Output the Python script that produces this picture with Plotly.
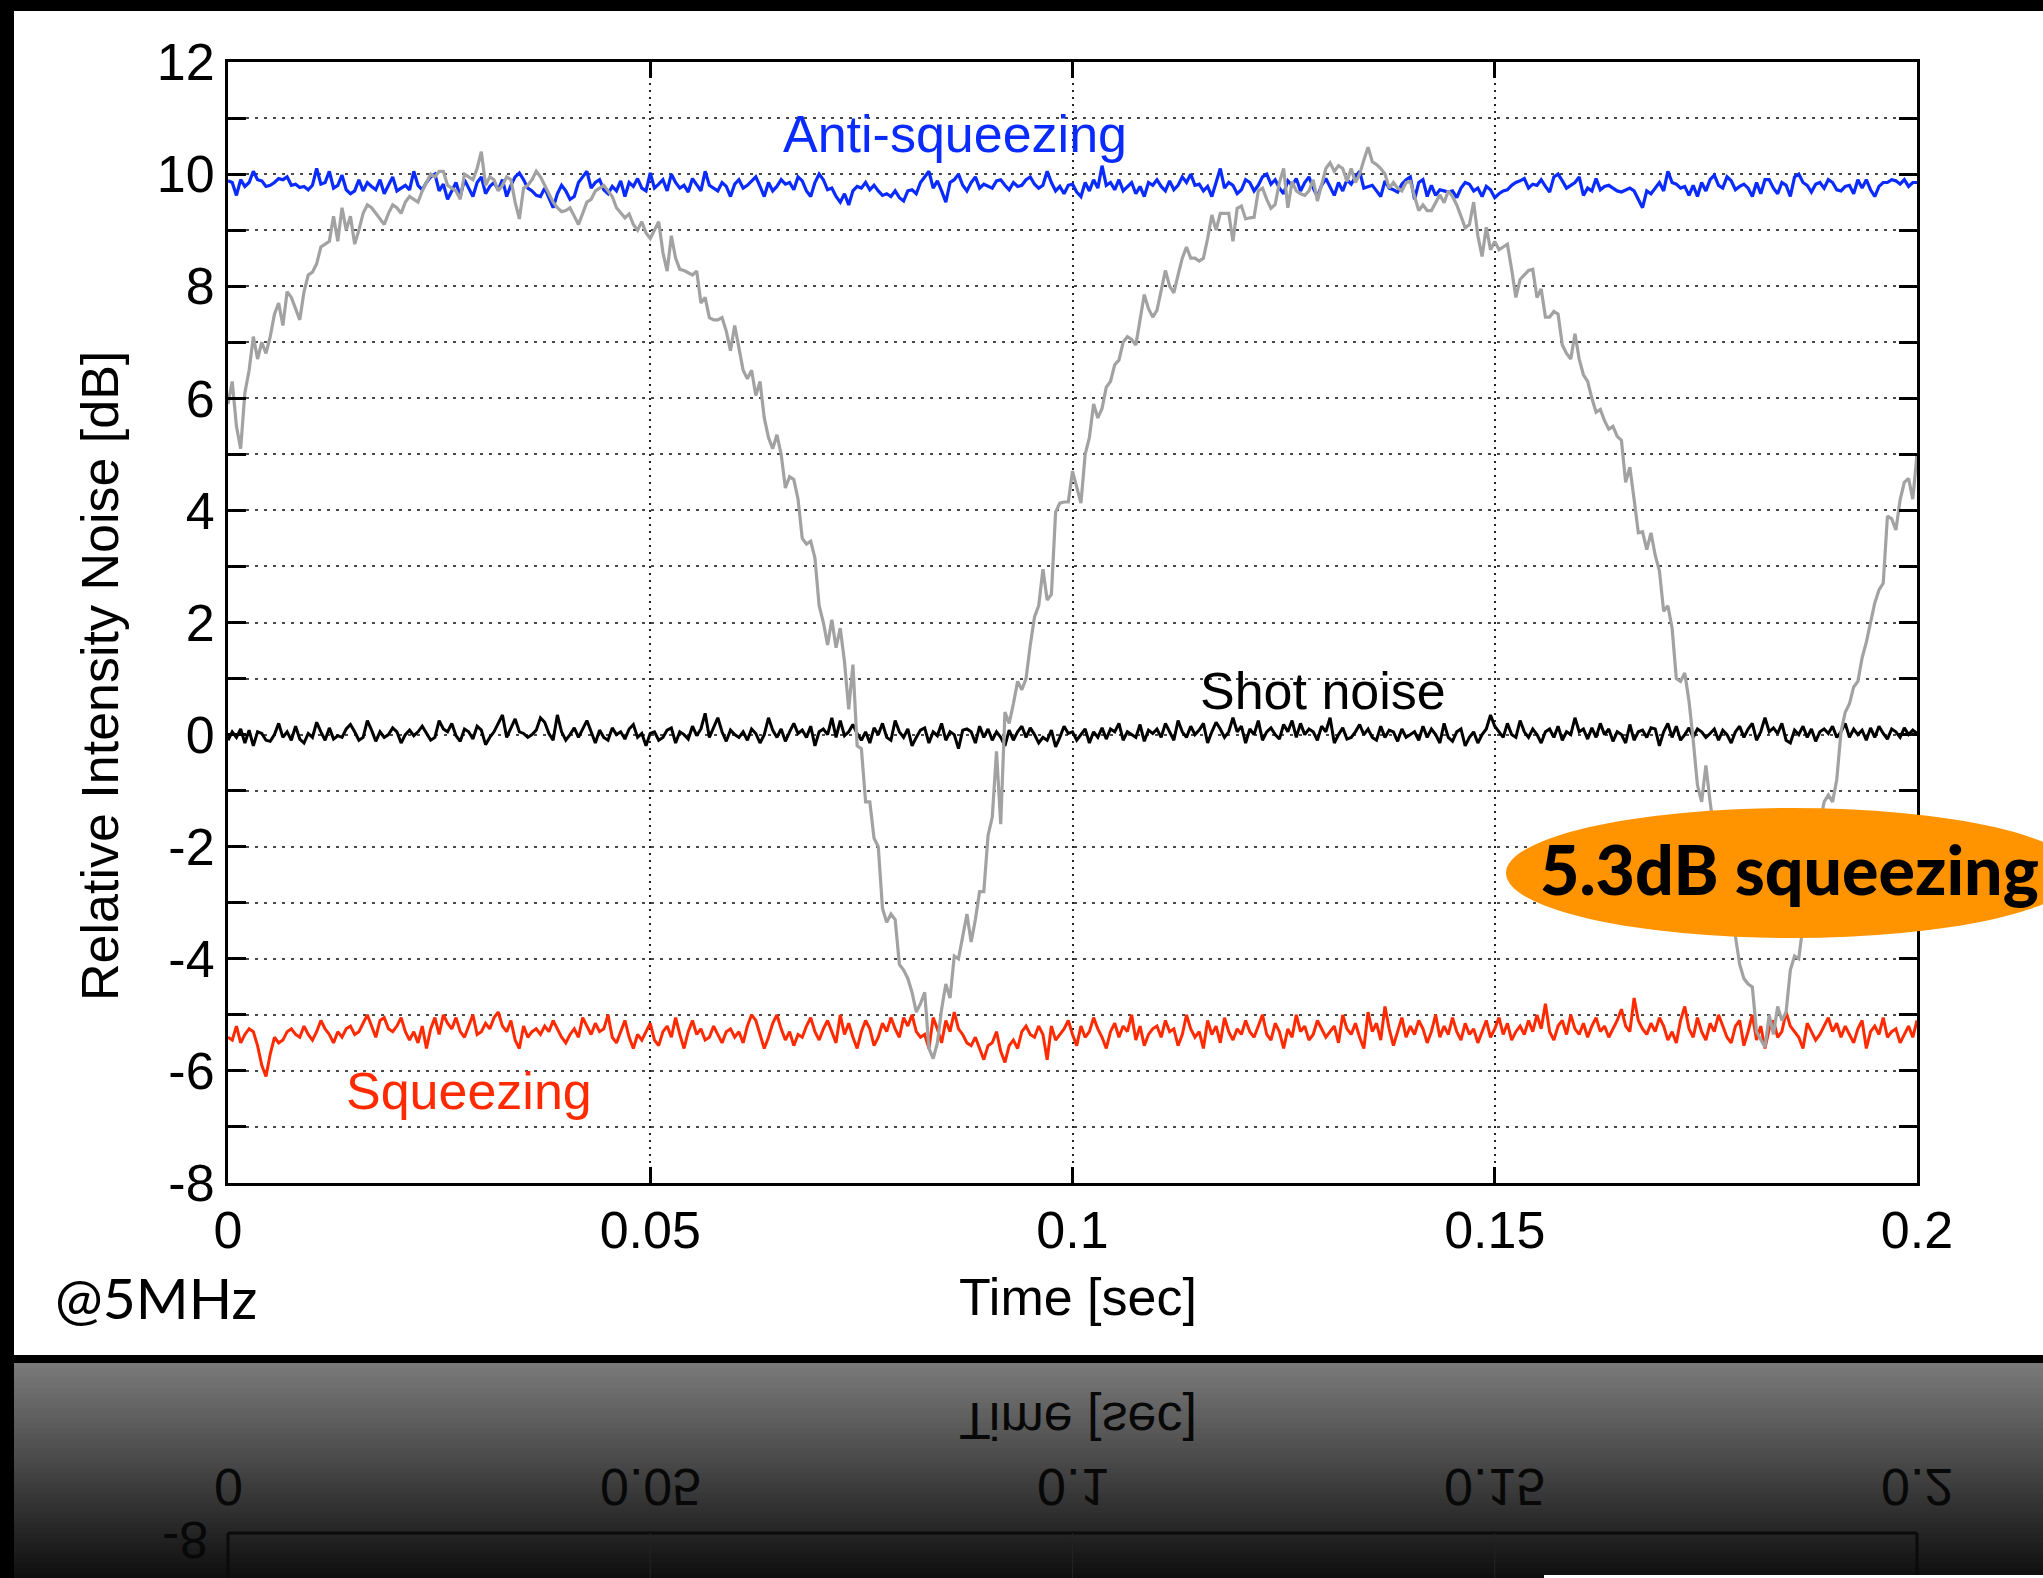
import json
import plotly.graph_objects as go

# ---------------- data ----------------
time_step = 0.0005
n_pts = 401
time_s = [i * time_step for i in range(n_pts)]

phase_scan = [
    5.9, 6.3, 5.5, 5.1, 6.1, 6.5, 7.1, 6.7, 7.0, 6.8, 7.1, 7.5, 7.7, 7.3, 7.9, 7.8, 7.6, 7.4, 7.9, 8.2,
    8.25, 8.4, 8.7, 8.75, 8.8, 9.25, 8.8, 9.4, 9.0, 9.25, 8.75, 9.0, 9.3, 9.45, 9.4, 9.3, 9.2, 9.1, 9.3, 9.45,
    9.4, 9.3, 9.5, 9.6, 9.55, 9.5, 9.7, 9.85, 10.0, 9.95, 10.05, 10.05, 9.8, 9.75, 9.7, 9.55, 10.0, 9.95, 9.9, 10.1,
    10.4, 9.8, 9.95, 9.9, 9.7, 9.8, 9.95, 9.9, 9.5, 9.2, 9.75, 9.8, 9.9, 10.05, 9.95, 9.8, 9.65, 9.5, 9.4, 9.33,
    9.35, 9.4, 9.25, 9.1, 9.3, 9.5, 9.55, 9.7, 9.75, 9.8, 9.7, 9.6, 9.4, 9.3, 9.22, 9.29, 9.1, 9.0, 9.15, 8.95,
    8.85, 9.0, 9.15, 8.6, 8.27, 8.9, 8.5, 8.3, 8.28, 8.24, 8.2, 8.27, 7.7, 7.8, 7.44, 7.4, 7.4, 7.44, 7.2, 6.85,
    7.3, 6.9, 6.5, 6.35, 6.5, 6.05, 6.3, 5.65, 5.3, 5.1, 5.35, 5.0, 4.4, 4.6, 4.55, 4.2, 3.5, 3.4, 3.45, 3.15,
    2.3, 2.0, 1.6, 2.05, 1.55, 1.9, 1.3, 0.45, 1.25, -0.2, -0.25, -1.2, -1.2, -1.85, -2.0, -3.1, -3.35, -3.2, -3.3, -4.1,
    -4.2, -4.35, -4.6, -4.95, -4.8, -4.6, -5.6, -5.78, -5.5, -4.9, -4.45, -4.7, -3.95, -4.0, -3.6, -3.2, -3.7, -3.3, -2.8, -2.8,
    -1.8, -1.47, -0.3, -1.6, 0.4, 0.2, 0.55, 0.95, 0.8, 1.0, 1.6, 2.1, 2.3, 2.95, 2.4, 2.5, 3.97, 4.13, 4.15, 4.15,
    4.7, 4.4, 4.13, 5.0, 5.3, 5.9, 5.65, 5.82, 6.2, 6.3, 6.6, 6.68, 7.0, 7.1, 7.05, 6.95, 7.38, 7.85, 7.6, 7.45,
    7.57, 7.95, 8.28, 8.0, 7.88, 8.2, 8.5, 8.7, 8.5, 8.5, 8.45, 8.5, 8.85, 9.27, 9.0, 9.3, 9.3, 9.3, 8.8, 9.39,
    9.43, 9.2, 9.22, 9.23, 9.7, 9.75, 9.55, 9.39, 9.46, 9.85, 10.1, 9.4, 9.87, 9.7, 9.65, 9.62, 9.7, 9.9, 9.52, 9.8,
    10.1, 10.2, 10.05, 10.15, 10.1, 9.87, 10.1, 9.85, 10.0, 10.25, 10.48, 10.22, 10.17, 10.1, 10.0, 9.75, 9.85, 9.75, 9.7, 9.85,
    9.87, 9.6, 9.35, 9.45, 9.35, 9.35, 9.5, 9.63, 9.49, 9.7, 9.6, 9.45, 9.25, 9.04, 9.1, 9.5, 8.9, 8.53, 9.05, 8.65,
    8.8, 8.65, 8.7, 8.75, 8.3, 7.8, 8.12, 8.2, 8.28, 8.3, 7.8, 7.95, 7.45, 7.45, 7.55, 7.5, 6.95, 6.8, 6.7, 7.15,
    6.7, 6.42, 6.3, 6.0, 5.75, 5.8, 5.6, 5.45, 5.5, 5.32, 5.25, 4.5, 4.77, 4.2, 3.6, 3.62, 3.3, 3.6, 3.2, 2.92,
    2.2, 2.3, 1.9, 1.0, 0.95, 1.1, 0.6, -0.1, -0.9, -1.2, -0.55, -1.2, -1.8, -2.3, -2.6, -2.9, -3.3, -3.6, -4.1, -4.35,
    -4.45, -4.5, -5.3, -5.45, -5.58, -5.0, -5.35, -4.85, -5.1, -4.95, -4.2, -3.95, -4.0, -3.4, -3.0, -2.6, -2.1, -1.6, -1.2, -1.08,
    -1.2, -0.8, 0.05, 0.4, 0.55, 0.85, 0.95, 1.37, 1.65, 2.0, 2.35, 2.58, 2.7, 3.9, 3.85, 3.65, 4.19, 4.5, 4.57, 4.2,
    5.0,
]

anti_squeezing = [
    9.88, 9.85, 9.62, 9.9, 9.78, 9.85, 10.05, 9.9, 9.88, 9.78, 9.8, 9.85, 9.92, 9.9, 9.95, 9.8, 9.82, 9.76, 9.78, 9.72,
    9.8, 10.1, 9.82, 9.85, 10.05, 9.75, 9.8, 9.98, 9.72, 9.65, 9.7, 9.9, 9.7, 9.85, 9.78, 9.72, 9.9, 9.65, 9.8, 9.95,
    9.7, 9.75, 9.8, 9.72, 10.05, 9.8, 9.72, 9.85, 9.95, 10.0, 9.7, 9.82, 9.55, 9.7, 9.85, 9.6, 9.9, 9.75, 9.6, 9.85,
    9.95, 9.65, 9.78, 9.85, 9.72, 9.9, 9.6, 9.8, 9.95, 10.02, 9.9, 9.75, 9.7, 9.62, 9.6, 9.75, 9.58, 9.4, 9.65, 9.8,
    9.7, 9.55, 9.6, 9.85, 9.95, 10.05, 9.75, 9.85, 9.9, 9.72, 9.65, 9.78, 9.7, 9.88, 9.6, 9.85, 9.78, 9.92, 9.75, 9.7,
    10.02, 9.75, 9.82, 9.9, 9.7, 10.0, 9.85, 9.75, 9.8, 9.68, 9.92, 9.8, 9.7, 10.05, 9.8, 9.75, 9.7, 9.85, 9.78, 9.6,
    9.82, 9.9, 9.75, 9.8, 9.88, 9.95, 9.78, 9.6, 9.85, 9.7, 9.78, 9.9, 9.82, 9.85, 9.72, 9.95, 9.88, 9.7, 9.6, 9.85,
    10.0, 9.9, 9.72, 9.75, 9.6, 9.5, 9.65, 9.45, 9.7, 9.78, 9.75, 9.85, 9.72, 9.8, 9.7, 9.62, 9.65, 9.6, 9.7, 9.58,
    9.52, 9.7, 9.72, 9.65, 9.85, 9.95, 10.05, 9.75, 9.88, 9.7, 9.5, 9.85, 9.9, 10.0, 9.8, 9.7, 9.85, 9.95, 9.75, 9.82,
    9.78, 9.75, 9.88, 9.9, 9.8, 9.72, 9.85, 9.78, 9.8, 9.9, 9.95, 9.82, 9.75, 9.8, 10.05, 9.85, 9.7, 9.78, 9.65, 9.8,
    9.82, 9.68, 9.6, 9.85, 9.7, 9.9, 9.75, 10.15, 9.8, 9.85, 9.72, 9.9, 9.7, 9.78, 9.85, 9.65, 9.78, 9.6, 9.85, 9.8,
    9.9, 9.78, 9.7, 9.88, 9.72, 9.8, 9.95, 9.85, 10.0, 9.8, 9.82, 9.7, 9.78, 9.6, 9.85, 10.1, 9.75, 9.85, 9.8, 9.65,
    9.72, 9.9, 9.85, 9.7, 9.8, 9.95, 10.0, 9.82, 9.9, 9.75, 9.65, 9.88, 9.8, 9.92, 9.7, 9.85, 9.95, 9.75, 9.6, 9.8,
    9.92, 9.78, 9.62, 9.85, 9.7, 9.9, 9.82, 9.95, 10.05, 9.75, 9.78, 9.8, 9.7, 9.6, 9.88, 9.75, 9.72, 9.68, 9.82, 9.9,
    9.95, 9.55, 9.85, 9.9, 9.6, 9.8, 9.62, 9.72, 9.7, 9.68, 9.7, 9.58, 9.75, 9.85, 9.82, 9.7, 9.75, 9.6, 9.78, 9.72,
    9.58, 9.65, 9.7, 9.72, 9.8, 9.85, 9.88, 9.92, 9.75, 9.82, 9.8, 9.9, 9.78, 9.68, 9.95, 10.0, 9.88, 9.75, 9.8, 9.85,
    9.95, 9.62, 9.75, 9.7, 9.92, 9.72, 9.78, 9.8, 9.75, 9.7, 9.68, 9.72, 9.75, 9.7, 9.55, 9.4, 9.7, 9.65, 9.75, 9.85,
    9.7, 10.05, 9.85, 9.82, 9.75, 9.78, 9.62, 9.8, 9.6, 9.85, 9.7, 9.9, 9.98, 9.8, 9.75, 9.95, 9.88, 9.72, 9.78, 9.82,
    9.75, 9.6, 9.85, 9.65, 9.9, 9.9, 9.75, 9.65, 9.85, 9.8, 9.6, 9.95, 10.0, 9.85, 9.8, 9.68, 9.82, 9.85, 9.75, 9.9,
    9.85, 9.72, 9.7, 9.78, 9.8, 9.65, 9.9, 9.75, 9.9, 9.72, 9.6, 9.78, 9.85, 9.85, 9.9, 9.88, 9.82, 9.9, 9.78, 9.85,
    9.85,
]

shot_noise = [
    -0.1, 0.05, -0.05, 0.1, -0.15, 0.08, -0.2, 0.05, 0.02, -0.1, -0.12, 0.0, 0.2, -0.05, 0.05, -0.1, 0.15, -0.08, -0.15, 0.02,
    -0.05, 0.22, 0.05, -0.1, 0.12, -0.08, -0.02, -0.05, 0.1, 0.18, 0.05, -0.1, -0.05, 0.25, 0.08, -0.12, 0.05, -0.05, 0.0, 0.12,
    0.05, -0.15, 0.0, 0.08, -0.02, 0.05, 0.15, 0.02, -0.1, -0.05, 0.25, 0.1, 0.05, 0.2, -0.02, -0.12, 0.1, 0.05, -0.08, 0.15,
    0.08, -0.18, -0.05, 0.05, 0.2, 0.35, -0.05, 0.1, 0.28, 0.05, 0.02, -0.05, 0.0, 0.08, 0.3, 0.22, 0.02, -0.1, 0.35, 0.05,
    -0.1, 0.0, 0.12, -0.05, 0.1, 0.25, 0.05, -0.15, 0.08, -0.05, -0.1, 0.12, 0.0, 0.05, -0.08, 0.1, 0.18, -0.05, 0.02, -0.2,
    0.02, 0.05, -0.1, -0.05, 0.08, 0.12, -0.15, 0.05, 0.0, -0.08, 0.15, -0.02, 0.1, 0.38, -0.05, 0.12, 0.3, 0.05, -0.12, 0.08,
    0.0, -0.05, 0.05, -0.1, 0.1, 0.02, -0.15, 0.0, 0.3, 0.08, -0.05, 0.1, -0.12, 0.05, 0.2, 0.02, 0.08, -0.05, 0.15, -0.2,
    0.05, 0.1, 0.0, 0.3, -0.05, 0.25, -0.02, 0.05, 0.18, 0.02, -0.1, 0.05, -0.15, 0.12, 0.0, 0.2, -0.05, -0.1, 0.25, 0.05,
    -0.05, 0.1, -0.2, -0.05, 0.08, 0.12, -0.15, 0.05, -0.02, 0.2, -0.1, 0.05, 0.0, -0.25, 0.08, 0.1, 0.05, -0.15, 0.15, -0.05,
    0.1, -0.1, 0.05, -0.05, -0.2, 0.08, -0.1, 0.05, 0.15, -0.05, 0.12, 0.0, -0.15, -0.05, -0.1, 0.08, -0.22, -0.05, 0.15, 0.02,
    0.05, -0.1, 0.0, 0.1, -0.15, 0.05, -0.05, 0.12, -0.08, 0.1, 0.05, 0.2, -0.1, 0.05, 0.0, -0.05, 0.18, -0.12, 0.08, 0.02,
    0.1, -0.05, 0.2, 0.05, -0.1, 0.25, 0.05, -0.05, 0.15, 0.0, 0.08, 0.2, -0.15, 0.05, 0.22, 0.1, -0.05, 0.05, 0.3, 0.05,
    0.15, -0.15, 0.1, 0.0, 0.25, -0.1, 0.05, 0.12, 0.0, -0.08, 0.18, 0.05, 0.25, -0.05, 0.2, 0.0, 0.1, 0.05, -0.1, 0.15,
    0.05, 0.3, -0.15, 0.0, 0.12, -0.08, -0.05, 0.05, 0.18, 0.0, 0.1, -0.05, -0.1, 0.15, -0.05, 0.08, 0.05, -0.12, 0.1, -0.05,
    0.0, 0.05, -0.1, 0.15, -0.05, 0.1, 0.0, -0.15, 0.2, -0.05, -0.12, 0.05, 0.1, -0.2, -0.05, 0.05, -0.15, 0.0, 0.1, 0.35,
    0.15, 0.05, -0.05, 0.2, 0.0, -0.05, 0.25, 0.05, -0.05, 0.1, 0.0, -0.15, 0.05, 0.1, -0.05, 0.15, -0.1, 0.05, 0.0, 0.3,
    0.05, 0.1, -0.08, 0.12, -0.05, 0.2, 0.0, 0.1, -0.12, 0.05, 0.0, -0.15, 0.18, -0.1, 0.05, 0.08, -0.05, 0.12, 0.1, -0.2,
    0.05, 0.2, -0.05, 0.15, -0.1, 0.0, 0.12, -0.05, 0.1, 0.05, -0.05, 0.02, 0.1, -0.1, 0.08, 0.0, -0.15, 0.05, 0.15, -0.05,
    0.1, 0.2, -0.1, 0.05, 0.3, 0.05, 0.12, 0.02, 0.2, -0.1, -0.15, 0.08, 0.0, 0.15, -0.05, 0.1, -0.12, 0.05, 0.1, 0.02,
    0.15, -0.05, 0.05, 0.2, -0.05, 0.1, 0.0, 0.08, -0.1, 0.12, -0.05, 0.15, 0.02, -0.08, 0.1, 0.05, -0.05, 0.12, 0.0, 0.08,
    0.02,
]

squeezing = [
    -5.4, -5.45, -5.2, -5.5, -5.35, -5.25, -5.3, -5.55, -5.9, -6.1, -5.7, -5.4, -5.5, -5.45, -5.3, -5.25, -5.35, -5.4, -5.2, -5.35,
    -5.45, -5.3, -5.1, -5.25, -5.35, -5.5, -5.3, -5.4, -5.25, -5.2, -5.35, -5.3, -5.15, -5.0, -5.2, -5.4, -5.1, -5.05, -5.25, -5.3,
    -5.2, -5.05, -5.3, -5.45, -5.3, -5.5, -5.2, -5.6, -5.25, -5.05, -5.35, -5.0, -5.15, -5.25, -5.05, -5.3, -5.4, -5.2, -5.0, -5.35,
    -5.3, -5.15, -5.25, -5.05, -4.95, -5.2, -5.3, -5.1, -5.45, -5.6, -5.2, -5.4, -5.3, -5.25, -5.35, -5.2, -5.3, -5.1, -5.25, -5.4,
    -5.5, -5.35, -5.25, -5.4, -5.05, -5.2, -5.35, -5.15, -5.3, -5.25, -5.0, -5.4, -5.5, -5.3, -5.1, -5.4, -5.6, -5.35, -5.45, -5.3,
    -5.15, -5.45, -5.55, -5.3, -5.2, -5.4, -5.05, -5.35, -5.6, -5.3, -5.1, -5.35, -5.25, -5.45, -5.4, -5.2, -5.35, -5.5, -5.3, -5.25,
    -5.4, -5.3, -5.5, -5.2, -5.0, -5.1, -5.35, -5.6, -5.4, -5.15, -5.0, -5.25, -5.45, -5.3, -5.55, -5.35, -5.4, -5.2, -5.05, -5.3,
    -5.45, -5.25, -5.1, -5.3, -5.5, -5.0, -5.35, -5.15, -5.4, -5.6, -5.3, -5.1, -5.25, -5.55, -5.4, -5.15, -5.3, -5.05, -5.25, -5.4,
    -5.05, -5.2, -5.0, -5.3, -5.4, -5.35, -5.6, -5.05, -5.25, -5.5, -5.1, -5.3, -4.95, -5.25, -5.35, -5.5, -5.55, -5.4, -5.6, -5.8,
    -5.55, -5.5, -5.3, -5.65, -5.85, -5.55, -5.45, -5.6, -5.3, -5.2, -5.35, -5.4, -5.2, -5.35, -5.8, -5.2, -5.45, -5.35, -5.25, -5.1,
    -5.35, -5.55, -5.2, -5.4, -5.3, -5.05, -5.25, -5.4, -5.6, -5.3, -5.15, -5.4, -5.2, -5.3, -5.0, -5.45, -5.2, -5.55, -5.35, -5.25,
    -5.2, -5.4, -5.1, -5.3, -5.25, -5.55, -5.35, -5.0, -5.25, -5.4, -5.3, -5.6, -5.1, -5.35, -5.2, -5.5, -5.05, -5.3, -5.45, -5.25,
    -5.35, -5.1, -5.3, -5.4, -5.2, -5.0, -5.35, -5.45, -5.15, -5.3, -5.6, -5.25, -5.4, -5.0, -5.3, -5.2, -5.45, -5.35, -5.1, -5.25,
    -5.4, -5.3, -5.2, -5.5, -5.0, -5.25, -5.35, -5.15, -5.4, -5.6, -4.95, -5.3, -5.15, -5.45, -4.85, -5.25, -5.55, -5.3, -5.05, -5.4,
    -5.2, -5.35, -5.1, -5.25, -5.5, -5.3, -5.0, -5.4, -5.2, -5.35, -5.05, -5.3, -5.45, -5.15, -5.35, -5.25, -5.5, -5.3, -5.1, -5.4,
    -5.25, -5.05, -5.35, -5.15, -5.45, -5.3, -5.2, -5.35, -5.1, -5.3, -5.0, -5.25, -4.8, -5.3, -5.45, -5.2, -5.1, -5.35, -5.0, -5.25,
    -5.35, -5.15, -5.4, -5.2, -5.05, -5.3, -5.2, -5.4, -5.25, -5.1, -4.9, -5.2, -5.3, -4.7, -5.1, -5.25, -5.35, -5.15, -5.3, -5.05,
    -5.2, -5.45, -5.3, -5.5, -5.1, -4.85, -5.25, -5.4, -5.05, -5.3, -5.45, -5.15, -5.3, -5.0, -5.2, -5.4, -5.5, -5.2, -5.1, -5.55,
    -5.3, -5.0, -5.45, -5.2, -5.6, -5.25, -5.1, -5.4, -5.3, -4.95, -5.2, -5.3, -5.4, -5.6, -5.15, -5.3, -5.45, -5.35, -5.2, -5.05,
    -5.3, -5.15, -5.4, -5.2, -5.35, -5.5, -5.25, -5.1, -5.6, -5.3, -5.2, -5.35, -5.05, -5.4, -5.3, -5.25, -5.5, -5.35, -5.2, -5.4,
    -5.1,
]

x_tick_vals = [0, 0.05, 0.1, 0.15, 0.2]
x_tick_text = ["0", "0.05", "0.1", "0.15", "0.2"]
y_tick_vals = [-8, -6, -4, -2, 0, 2, 4, 6, 8, 10, 12]
y_tick_text = ["-8", "-6", "-4", "-2", "0", "2", "4", "6", "8", "10", "12"]

# ---------------- geometry helpers (pixel -> paper) ----------------
W, H = 2043, 1578
L, R, T, B = 228, 1917, 62, 1183
PW, PH = R - L, B - T


def px(x):
    return (x - L) / PW


def py(y):
    return (B - y) / PH


FONT = "Liberation Sans, Arial, Helvetica, sans-serif"
HUMANIST = "Lato, 'Open Sans', sans-serif"

fig = go.Figure()
fig.add_trace(go.Scatter(x=time_s, y=anti_squeezing, mode="lines",
                         line=dict(color="#0a2bff", width=3.2), name="Anti-squeezing"))
fig.add_trace(go.Scatter(x=time_s, y=shot_noise, mode="lines",
                         line=dict(color="#000000", width=3.0), name="Shot noise"))
fig.add_trace(go.Scatter(x=time_s, y=squeezing, mode="lines",
                         line=dict(color="#ff2a00", width=3.0), name="Squeezing"))
fig.add_trace(go.Scatter(x=time_s, y=phase_scan, mode="lines",
                         line=dict(color="#a2a2a2", width=3.2), name="Phase scan"))

shapes = []
# white panel
shapes.append(dict(type="rect", xref="paper", yref="paper", layer="below",
                   x0=px(14), x1=px(2060), y0=py(1355), y1=py(11),
                   fillcolor="white", line=dict(width=0)))
# reflection gradient
g_top, g_bot = 1363, 1578
n_strips = 43
for k in range(n_strips):
    y0 = g_top + (g_bot - g_top) * k / n_strips
    y1 = g_top + (g_bot - g_top) * (k + 1) / n_strips
    c = int(round(0x7a - (0x7a - 0x0e) * (k + 0.5) / n_strips))
    shapes.append(dict(type="rect", xref="paper", yref="paper", layer="below",
                       x0=px(14), x1=px(2060), y0=py(y1 + 0.6), y1=py(y0),
                       fillcolor=f"rgb({c},{c},{c})", line=dict(width=0)))
# mirrored frame in reflection
ref_frame_y = 1533
shapes.append(dict(type="line", xref="paper", yref="paper", layer="below",
                   x0=0, x1=1, y0=py(ref_frame_y), y1=py(ref_frame_y),
                   line=dict(color="#0b0b0b", width=3)))
for tv in x_tick_vals:
    is_edge = tv in (x_tick_vals[0], x_tick_vals[-1])
    shapes.append(dict(type="line", xref="paper", yref="paper", layer="below",
                       x0=tv / x_tick_vals[-1], x1=tv / x_tick_vals[-1],
                       y0=py(ref_frame_y), y1=py(1580),
                       line=dict(color="#0b0b0b" if is_edge else "#222222",
                                 width=3 if is_edge else 1.2)))
shapes.append(dict(type="rect", xref="paper", yref="paper", layer="below",
                   x0=px(1544), x1=px(2060), y0=py(1580), y1=py(1575),
                   fillcolor="white", line=dict(width=0)))
# orange callout ellipse
shapes.append(dict(type="circle", xref="paper", yref="paper", layer="above",
                   x0=px(1506), x1=px(2078), y0=py(938), y1=py(808),
                   fillcolor="#ff9400", line=dict(width=0)))

annotations = []


def add_ann(text, x, y, size, color, family=FONT, angle=0, weight=None, xanchor="center"):
    f = dict(family=family, size=size, color=color)
    if weight:
        f["weight"] = weight
    annotations.append(dict(text=text, xref="paper", yref="paper", x=x, y=y,
                            showarrow=False, font=f, textangle=angle,
                            xanchor=xanchor, yanchor="middle"))
    return len(annotations) - 1


add_ann("Anti-squeezing", px(955), py(134), 52, "#0a2bff")
add_ann("Shot noise", px(1323), py(691), 52, "#000000")
add_ann("Squeezing", px(469), py(1091), 52, "#ff2a00")
add_ann("Relative Intensity Noise [dB]", px(100), py(676), 52, "#000000", angle=-90)
add_ann("Time [sec]", px(1078), py(1297), 52, "#000000")
add_ann("@5MHz", px(156), py(1297), 57, "#000000", family=HUMANIST)
add_ann("5.3dB squeezing", px(1789), py(868), 68, "#000000", family=HUMANIST, weight=900)

# reflected (mirrored) texts
mirror_idx = []
mirror_idx.append(add_ann("Time [sec]", px(1078), py(1421), 52, "#080808"))
for tv, tt in zip(x_tick_vals, x_tick_text):
    mirror_idx.append(add_ann(tt, tv / x_tick_vals[-1], py(1487), 52, "#080808"))
mirror_idx.append(add_ann(y_tick_text[0], px(210), py(1540), 52, "#080808", xanchor="right"))

grid_col = "#4a4a4a"
fig.update_layout(
    width=W, height=H, autosize=False,
    paper_bgcolor="black", plot_bgcolor="white",
    margin=dict(l=L, r=W - R, t=T, b=H - B),
    showlegend=False,
    shapes=shapes, annotations=annotations,
    font=dict(family=FONT, size=52, color="black"),
    xaxis=dict(range=[0, 0.2], tickvals=x_tick_vals, ticktext=x_tick_text,
               ticks="inside", ticklen=16, tickwidth=2.5, tickcolor="black",
               showline=True, linewidth=3, linecolor="black", mirror="ticks",
               showgrid=True, gridcolor="#222222", gridwidth=1.5, griddash="2px,5px",
               zeroline=False, ticklabelstandoff=0,
               tickfont=dict(family=FONT, size=52, color="black")),
    yaxis=dict(range=[-8, 12], tickvals=y_tick_vals, ticktext=y_tick_text,
               ticks="inside", ticklen=18, tickwidth=2.5, tickcolor="black",
               showline=True, linewidth=3, linecolor="black", mirror="ticks",
               showgrid=True, gridcolor=grid_col, gridwidth=1.6, griddash="3px,6px",
               zeroline=False, ticklabelstandoff=0,
               minor=dict(dtick=1, tick0=0, ticks="inside", ticklen=18, tickwidth=2.5,
                          tickcolor="black", showgrid=True, gridcolor=grid_col,
                          gridwidth=1.6, griddash="3px,6px"),
               tickfont=dict(family=FONT, size=52, color="black")),
)

post = """
document.documentElement.style.margin = '0';
document.documentElement.style.overflow = 'hidden';
document.body.style.margin = '0';
document.body.style.padding = '0';
document.body.style.overflow = 'hidden';
document.body.style.background = 'black';
var gd = document.getElementById('{plot_id}');
var idx = MIRROR_IDX;
function flipMirror() {
  idx.forEach(function(i) {
    var t = gd.querySelector('g.annotation[data-index="' + i + '"] text');
    if (t) {
      t.style.transformBox = 'fill-box';
      t.style.transformOrigin = '50% 50%';
      t.style.transform = 'scaleY(-1)';
    }
  });
}
flipMirror();
if (gd.on) { gd.on('plotly_afterplot', flipMirror); }
""".replace("MIRROR_IDX", json.dumps(mirror_idx))

fig.write_html("out.html", config={"displayModeBar": False}, post_script=post)
